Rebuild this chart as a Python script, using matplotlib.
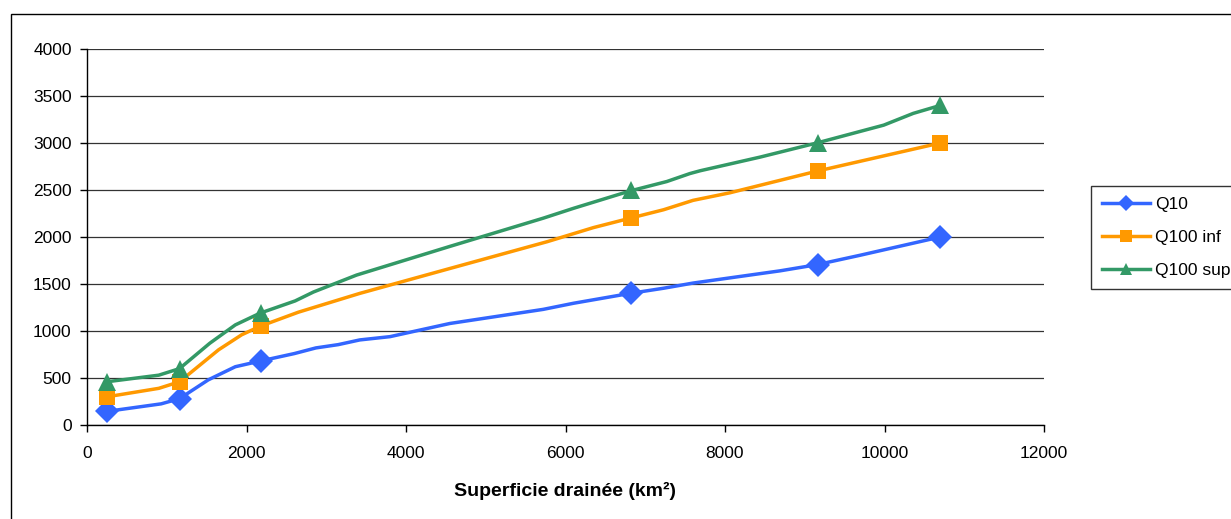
import matplotlib
matplotlib.use("Agg")
import matplotlib.pyplot as plt
from matplotlib.patches import Rectangle
from matplotlib.lines import Line2D

plt.rcParams['font.family'] = ['Liberation Sans', 'DejaVu Sans']

# Marker (data) points
x_pts = [250, 1160, 2180, 6820, 9160, 10700]
q10_pts = [145, 280, 680, 1400, 1705, 2000]
q100inf_pts = [300, 460, 1050, 2200, 2700, 3000]
q100sup_pts = [460, 600, 1190, 2500, 3000, 3400]

# Line vertices (as drawn in the reference)
q10_x = [250, 930, 1160, 1520, 1860, 2170, 2600, 2870, 3150, 3420, 3800, 4550,
         5720, 6100, 6810, 7230, 7600, 8060, 8690, 9150, 9690, 10700]
q10_y = [145, 225, 280, 480, 620, 680, 760, 820, 855, 905, 940, 1080,
         1230, 1295, 1400, 1455, 1510, 1565, 1640, 1705, 1805, 2000]

q100inf_x = [250, 900, 1160, 1650, 1940, 2170, 2650, 3420, 4550, 5770, 6350,
             6810, 7230, 7600, 8060, 9150, 10700]
q100inf_y = [300, 390, 460, 800, 960, 1050, 1200, 1400, 1665, 1950, 2100,
             2200, 2290, 2390, 2470, 2700, 3000]

q100sup_x = [250, 900, 1160, 1540, 1860, 2170, 2610, 2840, 3380, 4550, 5720,
             6100, 6810, 7270, 7560, 7690, 8440, 9150, 9990, 10360, 10700]
q100sup_y = [460, 530, 600, 870, 1065, 1190, 1320, 1415, 1595, 1900, 2200,
             2305, 2490, 2590, 2675, 2705, 2850, 3000, 3190, 3315, 3400]

labels = ['Q10', 'Q100 inf', 'Q100 sup']
colors = ['#3366FF', '#FF9900', '#339966']
markers = ['D', 's', '^']

x_ticks = [0, 2000, 4000, 6000, 8000, 10000, 12000]
y_ticks = [0, 500, 1000, 1500, 2000, 2500, 3000, 3500, 4000]

FS = 12.5
W, H = 1231, 519
fig = plt.figure(figsize=(W / 100, H / 100), dpi=100)
fig.patches.append(Rectangle((11 / W, -0.1), 1.2, 1 - 14 / H + 0.1,
                             transform=fig.transFigure, fill=False,
                             edgecolor='black', linewidth=1.0, zorder=0))

ax = fig.add_axes([87 / W, (H - 425) / H, 957 / W, 376 / H])

series = [(q10_x, q10_y, x_pts, q10_pts),
          (q100inf_x, q100inf_y, x_pts, q100inf_pts),
          (q100sup_x, q100sup_y, x_pts, q100sup_pts)]
msizes = [12, 12, 13]
for (lx, ly, mx, my), lab, c, m, ms in zip(series, labels, colors, markers, msizes):
    ax.plot(lx, ly, color=c, linewidth=2.5, zorder=3)
    ax.plot(mx, my, linestyle='none', marker=m, color=c, markersize=ms,
            markeredgewidth=0, zorder=4)

ax.set_xlim(0, 12000)
ax.set_ylim(0, 4000)
ax.set_xticks(x_ticks)
ax.set_yticks(y_ticks)
ax.tick_params(axis='both', direction='out', length=5, width=1, labelsize=FS,
               colors='black')
ax.tick_params(axis='x', pad=10)
ax.tick_params(axis='y', pad=6)
for s in ['top', 'right']:
    ax.spines[s].set_visible(False)
for s in ['left', 'bottom']:
    ax.spines[s].set_color('black')
    ax.spines[s].set_linewidth(1.0)
ax.yaxis.grid(True, color='#333333', linewidth=0.9)
ax.set_axisbelow(True)
xl = ax.set_xlabel('Superficie drainée (km²)', fontsize=14, fontweight='bold',
                   labelpad=15)

handles = [Line2D([], [], color=c, linewidth=2.5, marker=m, markersize=8,
                  markeredgewidth=0) for c, m in zip(colors, markers)]
leg = fig.legend(handles, labels, loc='upper left',
                 bbox_to_anchor=(1091 / W, 1 - 186 / H),
                 bbox_transform=fig.transFigure, fontsize=FS,
                 frameon=True, fancybox=False, handlelength=2.8,
                 handletextpad=0.25, labelspacing=1.03, borderpad=0.62,
                 borderaxespad=0)
leg.get_frame().set_edgecolor('black')
leg.get_frame().set_linewidth(1.0)

fig.savefig('out.png', dpi=100)
